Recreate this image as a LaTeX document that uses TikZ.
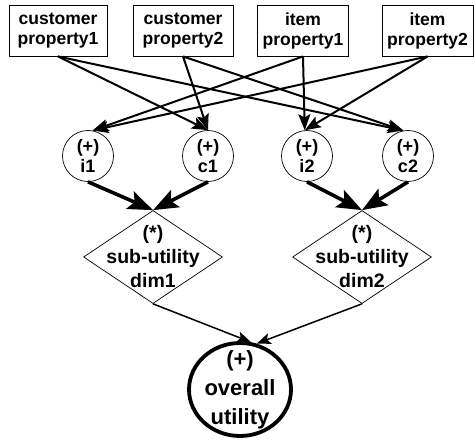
\documentclass[tikz,border=0pt]{standalone}
\usepackage{fontspec}
\setsansfont{Liberation Sans}
\usetikzlibrary{arrows.meta,shapes.geometric}

\begin{document}
\begin{tikzpicture}[x=1pt,y=-1pt,
    prop/.style={draw,line width=0.9pt,minimum height=51pt,inner sep=0pt,align=center,
        font=\sffamily\bfseries\fontsize{17.5}{20}\selectfont},
    sum/.style={circle,draw,line width=0.7pt,minimum size=51pt,inner sep=0pt,align=center,
        font=\sffamily\bfseries\fontsize{18}{20}\selectfont},
    prod/.style={diamond,draw,line width=0.7pt,minimum width=139pt,minimum height=93pt,inner sep=0pt},
    total/.style={ellipse,draw,line width=3.8pt,minimum width=102pt,minimum height=93pt,inner sep=0pt},
    link/.style={line width=2pt,-{Stealth[length=16pt,width=12pt,inset=3pt]}},
    strong/.style={line width=3.6pt,-{Stealth[length=25pt,width=19pt,inset=5pt]}},
    merge/.style={line width=1.5pt,-{Stealth[length=14pt,width=11pt,inset=3pt]}}]
    \useasboundingbox (0,0) rectangle (474,441);

    % input properties
    \node [prop,minimum width=98pt] (cp1) at (58,30.5) {customer\\property1};
    \node [prop,minimum width=100pt] (cp2) at (183,30.5) {customer\\property2};
    \node [prop,minimum width=91pt] (ip1) at (303,30.5) {item\\property1};
    \node [prop,minimum width=91pt] (ip2) at (427.5,30.5) {item\\property2};

    % sums
    \node [sum] (i1) at (88,156) {(+)\\i1};
    \node [sum] (c1) at (208,156) {(+)\\c1};
    \node [sum] (i2) at (307,156) {(+)\\i2};
    \node [sum] (c2) at (408,156) {(+)\\c2};

    % products
    \node [prod,label={[align=center,font=\sffamily\bfseries\fontsize{19.5}{24}\selectfont]center:{(*)\\sub-utility\\dim1}}] (d1) at (153,257) {};
    \node [prod,label={[align=center,font=\sffamily\bfseries\fontsize{19.5}{24}\selectfont]center:{(*)\\sub-utility\\dim2}}] (d2) at (362,257) {};

    \node [total,label={[align=center,font=\sffamily\bfseries\fontsize{22}{29}\selectfont]center:{(+)\\overall\\utility}}] (ov) at (240,389.5) {};

    \foreach \s/\t in {cp1/c1.north, cp1/c2.100, cp2/c1.north, cp2/c2.100,
                       ip1/i1.80, ip1/i2.95, ip2/i1.80, ip2/i2.95}
        \draw [link] (\s.south) -- (\t);

    \draw [strong] (i1.south) -- (d1.north);
    \draw [strong] (c1.south) -- (d1.north);
    \draw [strong] (i2.south) -- (d2.north);
    \draw [strong] (c2.south) -- (d2.north);

    \draw [merge] (d1.south) -- (ov.77);
    \draw [merge] (d2.south) -- (ov.70);
\end{tikzpicture}
\end{document}
